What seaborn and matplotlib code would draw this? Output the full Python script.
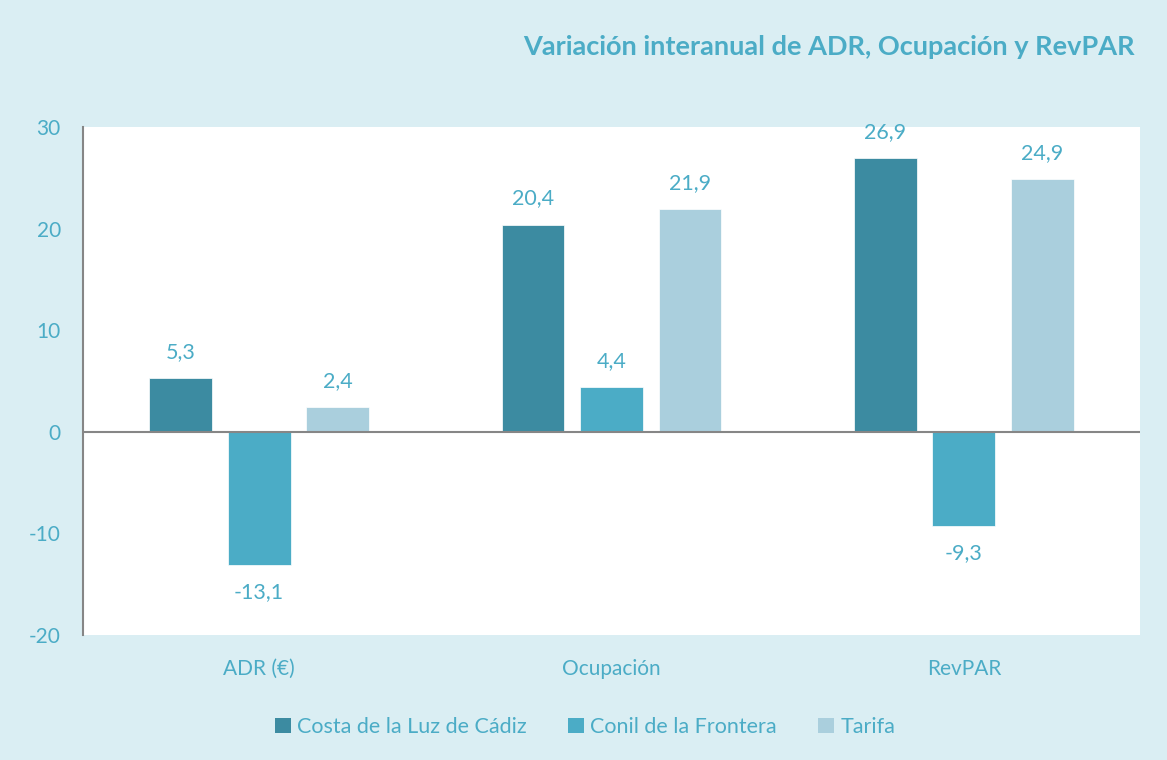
import matplotlib
matplotlib.use("Agg")
import matplotlib.pyplot as plt
import seaborn as sns
import pandas as pd
from matplotlib.patches import Patch

categories = ["ADR (€)", "Ocupación", "RevPAR"]
series = ["Costa de la Luz de Cádiz", "Conil de la Frontera", "Tarifa"]
costa = [5.3, 20.4, 26.9]
conil = [-13.1, 4.4, -9.3]
tarifa = [2.4, 21.9, 24.9]
yticks = [-20, -10, 0, 10, 20, 30]
title = "Variación interanual de ADR, Ocupación y RevPAR"

colors = ["#3C8BA1", "#4BACC6", "#AACFDD"]
txt = "#4BACC6"
bg = "#DAEEF3"

rows = []
for s, vals in zip(series, [costa, conil, tarifa]):
    for c, v in zip(categories, vals):
        rows.append({"cat": c, "serie": s, "val": v})
df = pd.DataFrame(rows)

sns.set_style("white")
plt.rcParams["font.family"] = ["Lato", "DejaVu Sans"]

fig = plt.figure(figsize=(11.67, 7.6), dpi=100, facecolor=bg)
ax = fig.add_axes([83/1167, 1-635/760, (1140-83)/1167, (635-127)/760])
ax.set_facecolor("white")

sns.barplot(data=df, x="cat", y="val", hue="serie", order=categories,
            hue_order=series, palette=colors, width=0.667, gap=0.2,
            saturation=1, ax=ax, legend=False, errorbar=None,
            edgecolor="white", linewidth=0.5)

ax.set_xlim(-0.5, 2.5)
ax.set_ylim(-20, 30)
ax.set_yticks(yticks)
ax.set_yticklabels([str(t) for t in yticks])
ax.set_xlabel("")
ax.set_ylabel("")
for sp in ["top", "right", "bottom"]:
    ax.spines[sp].set_visible(False)
ax.spines["left"].set_color("#868686")
ax.spines["left"].set_linewidth(1.5)
ax.axhline(0, color="#868686", lw=1.5, zorder=3)
ax.tick_params(axis="both", length=0, labelsize=15, colors=txt)
ax.tick_params(axis="y", pad=16)
ax.tick_params(axis="x", pad=17)

for cont in ax.containers:
    for bar in cont:
        h = bar.get_height()
        x = bar.get_x() + bar.get_width() / 2
        lab = f"{h:.1f}".replace(".", ",")
        off = 26 if h >= 0 else -27
        ax.annotate(lab, (x, h), xytext=(0, off), textcoords="offset pixels",
                    ha="center", va="center", fontsize=15.5, color=txt,
                    annotation_clip=False)

fig.text(1135/1167, 1-47/760, title, ha="right", va="center",
         fontsize=19.5, fontweight="bold", color=txt)

handles = [Patch(facecolor=c, edgecolor="none") for c in colors]
leg = fig.legend(handles, series, loc="center", bbox_to_anchor=(585/1167, 1-727/760),
                 ncol=3, frameon=False, fontsize=15.5, handlelength=0.75,
                 handleheight=0.75, handletextpad=0.3, columnspacing=1.9,
                 labelcolor=txt)

fig.savefig("out.png", dpi=100, facecolor=bg)
